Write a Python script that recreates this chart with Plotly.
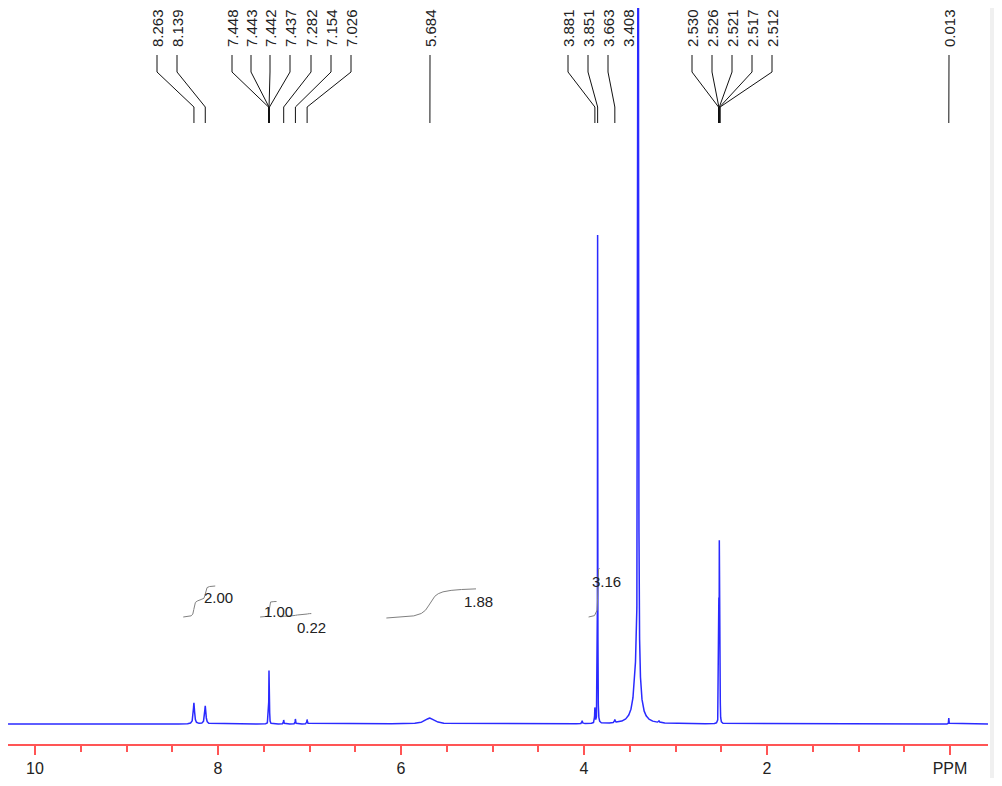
import numpy as np
import plotly.graph_objects as go

# ---------------- data ----------------
# peak list (ppm), heights (display units above baseline), half-widths (ppm)
peak_ppm = [8.263, 8.139, 7.448, 7.443, 7.442, 7.437, 7.282, 7.154, 7.026,
            5.684, 4.02, 3.881, 3.851, 3.663, 3.408, 3.42, 3.18,
            2.530, 2.526, 2.521, 2.517, 2.512, 0.013]
peak_height = [21, 18, 13, 27, 27, 13, 4, 5, 4.5,
               6, 3, 15, 497, 3, 3000, 60, 2,
               27, 109, 163, 109, 27, 6]
peak_width = [0.008, 0.008, 0.002, 0.002, 0.002, 0.002, 0.003, 0.003, 0.004,
              0.06, 0.004, 0.003, 0.0015, 0.005, 0.002, 0.035, 0.005,
              0.0015, 0.0015, 0.0015, 0.0015, 0.0015, 0.002]

# peak labels shown at top of the spectrum
label_values = [8.263, 8.139, 7.448, 7.443, 7.442, 7.437, 7.282, 7.154, 7.026,
                5.684, 3.881, 3.851, 3.663, 3.408,
                2.530, 2.526, 2.521, 2.517, 2.512, 0.013]
label_text = ["8.263", "8.139", "7.448", "7.443", "7.442", "7.437", "7.282", "7.154", "7.026",
              "5.684", "3.881", "3.851", "3.663", "3.408",
              "2.530", "2.526", "2.521", "2.517", "2.512", "0.013"]

# integrals: region (ppm from, ppm to) and value
integral_from = [8.38, 7.54, 7.32, 6.16, 3.95]
integral_to = [8.03, 7.36, 6.98, 5.18, 3.83]
integral_value = [2.00, 1.00, 0.22, 1.88, 3.16]
integral_text = ["2.00", "1.00", "0.22", "1.88", "3.16"]

tick_vals = [10, 8, 6, 4, 2, 0]
tick_text = ["10", "8", "6", "4", "2", "PPM"]

# ---------------- layout helpers (page pixel geometry of the original) ----------------
PAGE_OFF = 8     # the html body margin places the figure at (8, 8)
PX0 = 950.0      # page pixel x of 0 ppm
PXPPM = 91.5     # pixels per ppm
BASE = 724.0     # page pixel y of spectrum baseline
PLOT_L, PLOT_R = PAGE_OFF, 988     # page x of plot area
PLOT_T, PLOT_B = PAGE_OFF, 744     # page y of plot area
FIG_W, FIG_H = 994, 770


def px_to_ppm(px):
    return (PX0 - px) / PXPPM


def py_to_y(py):
    return BASE - py


label_px = [157, 177, 232, 251, 270, 290, 311, 331, 351,
            430, 568, 588, 608, 628,
            692, 712, 732, 752, 772, 949]
label_connect = [True] * 13 + [False] + [True] * 6
integral_base_py = [617, 617, 617, 618, 617]
integral_label_px = [(218, 597), (278, 611), (311, 627), (478, 601), (606, 581)]
INT_SCALE = 15.5

# ---------------- spectrum ----------------
xmin, xmax = px_to_ppm(PLOT_R), px_to_ppm(PLOT_L)
ppm = np.arange(xmin, xmax, 0.0005)
spec = np.zeros_like(ppm)
for p, h, w in zip(peak_ppm, peak_height, peak_width):
    spec += h * w ** 2 / ((ppm - p) ** 2 + w ** 2)

fig = go.Figure()
fig.add_trace(go.Scatter(x=ppm, y=spec, mode="lines",
                         line=dict(color="#2a2aff", width=1.5),
                         hoverinfo="skip", showlegend=False))

# integral curves
for a, b, val, bpy in zip(integral_from, integral_to, integral_value, integral_base_py):
    m = (ppm <= a) & (ppm >= b)
    xs = ppm[m][::-1]
    ys = spec[m][::-1]
    c = np.cumsum(ys)
    c = c / c[-1]
    yint = py_to_y(bpy) + INT_SCALE * val * c
    fig.add_trace(go.Scatter(x=xs, y=yint, mode="lines",
                             line=dict(color="#808080", width=1),
                             hoverinfo="skip", showlegend=False))

for txt, (lx, ly) in zip(integral_text, integral_label_px):
    fig.add_annotation(x=px_to_ppm(lx), y=py_to_y(ly), text=txt, showarrow=False,
                       font=dict(family="Arial", size=15, color="#222222"),
                       xanchor="center", yanchor="middle")

# peak label connectors
cx, cy = [], []
for val, lpx, con in zip(label_values, label_px, label_connect):
    if not con:
        continue
    lp = px_to_ppm(lpx)
    cx += [lp, lp, val, val, None]
    cy += [py_to_y(55), py_to_y(72), py_to_y(107), py_to_y(123), None]
fig.add_trace(go.Scatter(x=cx, y=cy, mode="lines",
                         line=dict(color="#111111", width=1),
                         hoverinfo="skip", showlegend=False))

for txt, lpx in zip(label_text, label_px):
    fig.add_annotation(x=px_to_ppm(lpx), y=py_to_y(28), text=txt, showarrow=False,
                       textangle=-90,
                       font=dict(family="Arial", size=15, color="#222222"),
                       xanchor="center", yanchor="middle")

# right-side grey strip with scrollbar thumb (paper coords of the plot area)
pw = PLOT_R - PLOT_L
ph = PLOT_B - PLOT_T


def pxp(px):
    return (px - PLOT_L) / pw


def pyp(py):
    return (PLOT_B - py) / ph


fig.add_shape(type="rect", xref="paper", yref="paper",
              x0=pxp(990), x1=pxp(1002), y0=pyp(778), y1=pyp(8),
              fillcolor="#f0f0f0", line_width=0, layer="above")
fig.add_shape(type="rect", xref="paper", yref="paper",
              x0=pxp(998), x1=pxp(1001), y0=pyp(415), y1=pyp(394),
              fillcolor="#8a8a8a", line_width=0, layer="above")

fig.update_layout(
    width=FIG_W, height=FIG_H,
    margin=dict(l=PLOT_L - PAGE_OFF, r=FIG_W - (PLOT_R - PAGE_OFF),
                t=PLOT_T - PAGE_OFF, b=FIG_H - (PLOT_B - PAGE_OFF)),
    paper_bgcolor="white", plot_bgcolor="white",
    xaxis=dict(range=[xmax, xmin], showgrid=False, zeroline=False,
               showline=True, linecolor="#ff5555", linewidth=2,
               ticks="outside", ticklen=9, tickwidth=2, tickcolor="#ff5555",
               tickvals=tick_vals, ticktext=tick_text,
               tickfont=dict(family="Arial", size=16, color="#222222"),
               minor=dict(dtick=0.5, tick0=0, ticks="outside", ticklen=6,
                          tickwidth=2, tickcolor="#ff5555")),
    yaxis=dict(range=[py_to_y(PLOT_B), py_to_y(PLOT_T)], visible=False,
               showgrid=False, zeroline=False),
)

fig.write_html("out.html")
